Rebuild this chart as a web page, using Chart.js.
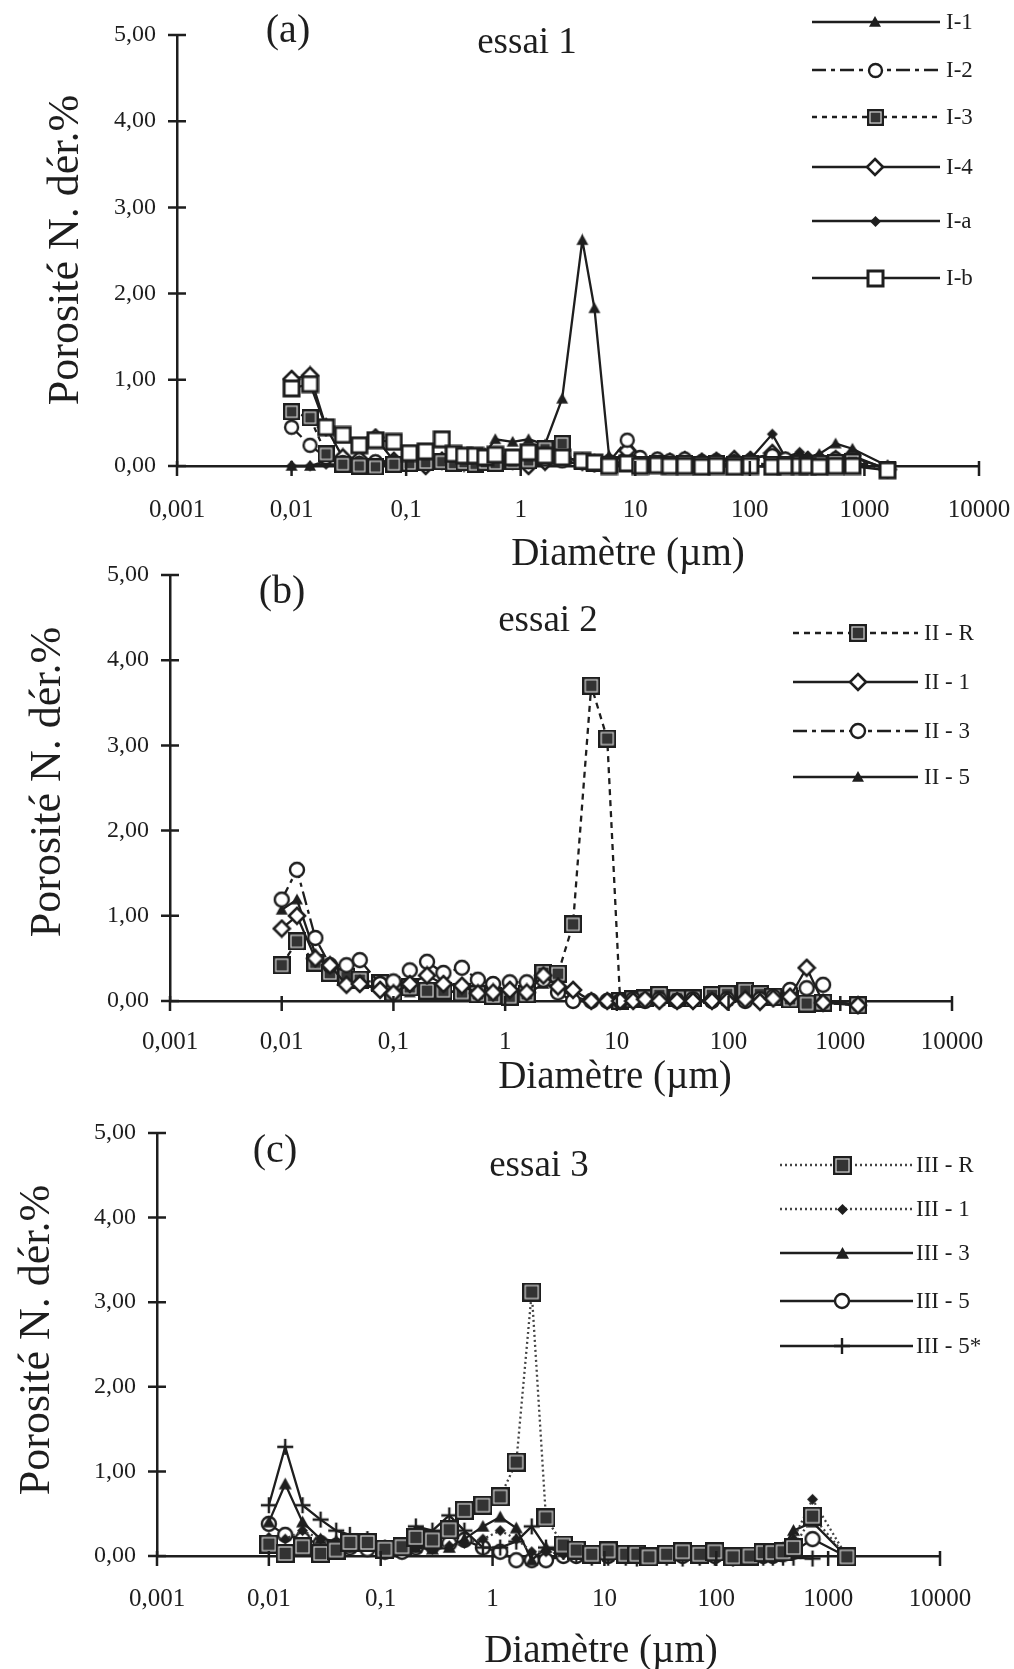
<!DOCTYPE html>
<html><head><meta charset="utf-8">
<script src="https://cdn.jsdelivr.net/npm/chart.js@4.4.1/dist/chart.umd.min.js"></script>
<style>
html,body{margin:0;padding:0;background:#fff;width:1014px;height:1669px;overflow:hidden;position:relative}
canvas{position:absolute;left:0}
</style></head><body>
<canvas id="ca" width="1014" height="590" style="top:0px"></canvas>
<canvas id="cb" width="1014" height="545" style="top:560px"></canvas>
<canvas id="cc" width="1014" height="574" style="top:1095px"></canvas>
<script>
// ---------- texts & ticks ----------
const xTickValues = [0.001, 0.01, 0.1, 1, 10, 100, 1000, 10000];
const xTickLabels = ['0,001', '0,01', '0,1', '1', '10', '100', '1000', '10000'];
const yTickLabels = ['0,00', '1,00', '2,00', '3,00', '4,00', '5,00'];
const axisTitleX = 'Diamètre (µm)';
const axisTitleY = 'Porosité N. dér.%';
const panelTags = ['(a)', '(b)', '(c)'];
const panelTitles = ['essai 1', 'essai 2', 'essai 3'];

// ---------- panel (a) : essai 1 ----------
const diamA = [0.01, 0.0145, 0.02, 0.028, 0.039, 0.054, 0.078, 0.107, 0.148, 0.205, 0.26, 0.32, 0.40, 0.49, 0.6, 0.85, 1.17, 1.63, 2.3, 3.45, 4.4, 5.9, 8.5, 11, 15.6, 20, 27, 38, 51, 73, 101, 157, 204, 272, 320, 404, 560, 786, 1590];
const labelsA = ['I-1', 'I-2', 'I-3', 'I-4', 'I-a', 'I-b'];
const I_1 = [0.0, 0.0, 0.06, 0.05, 0.06, 0.05, 0.06, 0.07, 0.08, 0.1, 0.12, 0.1, 0.12, 0.15, 0.31, 0.28, 0.31, 0.25, 0.78, 2.62, 1.83, 0.12, 0.06, 0.06, 0.05, 0.06, 0.06, 0.07, 0.08, 0.08, 0.1, 0.12, 0.1, 0.12, 0.1, 0.14, 0.26, 0.2, 0.0];
const I_2 = [0.45, 0.24, 0.1, 0.04, 0.03, 0.05, 0.04, 0.03, 0.05, 0.06, 0.05, 0.05, 0.04, 0.06, 0.05, 0.06, 0.05, 0.08, 0.06, 0.04, 0.03, 0.05, 0.3, 0.1, 0.08, 0.06, 0.08, 0.05, 0.06, 0.05, 0.06, 0.12, 0.08, 0.06, 0.05, 0.06, 0.08, 0.06, -0.03];
const I_3 = [0.63, 0.56, 0.14, 0.02, 0.0, -0.01, 0.02, 0.03, 0.04, 0.05, 0.03, 0.04, 0.02, 0.04, 0.03, 0.05, 0.06, 0.2, 0.26, 0.05, 0.03, 0.02, 0.03, 0.02, 0.03, 0.02, 0.03, 0.02, 0.03, 0.02, 0.03, 0.02, 0.02, 0.03, 0.02, 0.03, 0.04, 0.05, -0.04];
const I_4 = [1.01, 1.05, 0.45, 0.1, 0.08, 0.33, 0.06, 0.05, 0.0, 0.06, 0.05, 0.04, 0.03, 0.06, 0.05, 0.06, 0.0, 0.05, 0.1, 0.05, 0.03, 0.02, 0.18, 0.04, 0.06, 0.05, 0.07, 0.05, 0.06, 0.08, 0.07, 0.15, 0.06, 0.05, 0.07, 0.06, 0.08, 0.12, -0.04];
const I_a = [0.0, 0.0, 0.02, 0.02, 0.03, 0.02, 0.03, 0.02, 0.03, 0.04, 0.03, 0.02, 0.03, 0.02, 0.03, 0.04, 0.03, 0.02, 0.04, 0.03, 0.02, 0.03, 0.05, 0.03, 0.02, 0.03, 0.04, 0.03, 0.05, 0.06, 0.08, 0.37, 0.1, 0.16, 0.1, 0.12, 0.1, 0.1, -0.03];
const I_b = [0.9, 0.95, 0.45, 0.36, 0.24, 0.3, 0.28, 0.15, 0.17, 0.31, 0.14, 0.12, 0.12, 0.1, 0.13, 0.1, 0.16, 0.12, 0.1, 0.06, 0.04, 0.0, 0.03, 0.0, 0.01, 0.0, 0.0, -0.01, 0.0, -0.01, 0.0, -0.01, 0.0, 0.0, 0.0, -0.01, 0.0, 0.0, -0.05];

// ---------- panel (b) : essai 2 ----------
const diamB = [0.01, 0.0137, 0.02, 0.027, 0.038, 0.05, 0.076, 0.1, 0.14, 0.2, 0.28, 0.41, 0.57, 0.78, 1.1, 1.56, 2.2, 2.97, 4.05, 5.9, 8.2, 10.7, 14, 17.9, 24, 34.6, 48, 71, 97, 141, 191, 251, 355, 500, 702, 1440];
const labelsB = ['II - R', 'II - 1', 'II - 3', 'II - 5'];
const II_R = [0.42, 0.70, 0.45, 0.33, 0.28, 0.25, 0.21, 0.1, 0.16, 0.12, 0.12, 0.1, 0.08, 0.06, 0.05, 0.08, 0.33, 0.32, 0.9, 3.7, 3.08, 0.0, 0.02, 0.03, 0.07, 0.03, 0.03, 0.07, 0.08, 0.12, 0.08, 0.05, 0.02, -0.03, -0.02, -0.05];
const II_1 = [0.85, 1.0, 0.5, 0.42, 0.19, 0.2, 0.13, 0.09, 0.2, 0.3, 0.2, 0.18, 0.09, 0.1, 0.13, 0.1, 0.3, 0.17, 0.13, 0.0, 0.0, 0.0, 0.0, 0.02, 0.0, 0.0, 0.0, 0.0, 0.0, 0.02, -0.01, 0.03, 0.05, 0.39, -0.02, -0.05];
const II_3 = [1.19, 1.54, 0.74, 0.42, 0.42, 0.48, 0.2, 0.23, 0.36, 0.46, 0.33, 0.39, 0.25, 0.2, 0.22, 0.22, 0.25, 0.1, 0.0, 0.0, 0.0, 0.0, 0.02, 0.0, 0.02, 0.0, 0.02, 0.0, 0.02, 0.0, 0.02, 0.05, 0.13, 0.15, 0.19, null];
const II_5 = [1.07, 1.19, 0.55, 0.35, 0.25, 0.2, 0.15, 0.1, 0.1, 0.15, 0.12, 0.1, 0.08, 0.08, 0.08, 0.08, 0.2, 0.15, 0.05, 0.0, 0.0, 0.0, 0.0, 0.0, 0.0, 0.0, 0.0, 0.0, 0.0, 0.0, 0.0, 0.02, 0.02, 0.0, 0.0, -0.04];

// ---------- panel (c) : essai 3 ----------
const diamC = [0.01, 0.014, 0.02, 0.029, 0.04, 0.053, 0.076, 0.109, 0.155, 0.206, 0.29, 0.41, 0.56, 0.82, 1.17, 1.63, 2.24, 3.0, 4.3, 5.6, 7.7, 10.8, 15.5, 19.5, 25, 36, 50, 71, 97, 141, 200, 263, 320, 395, 490, 725, 1470];
const labelsC = ['III - R', 'III - 1', 'III - 3', 'III - 5', 'III - 5*'];
const III_R = [0.14, 0.03, 0.11, 0.03, 0.07, 0.16, 0.16, 0.08, 0.11, 0.22, 0.19, 0.31, 0.54, 0.6, 0.7, 1.11, 3.12, 0.45, 0.13, 0.07, 0.02, 0.06, 0.02, 0.02, -0.01, 0.02, 0.05, 0.02, 0.05, -0.01, 0.0, 0.04, 0.04, 0.05, 0.1, 0.47, -0.01];
const III_1 = [0.22, 0.2, 0.3, 0.2, 0.12, 0.1, 0.12, 0.08, 0.08, 0.1, 0.08, 0.12, 0.15, 0.2, 0.3, 0.2, 0.05, 0.05, 0.02, 0.02, 0.02, 0.02, 0.02, 0.02, 0.02, 0.02, 0.02, 0.02, 0.02, 0.02, 0.02, 0.02, 0.03, 0.05, 0.2, 0.67, -0.01];
const III_3 = [0.4, 0.85, 0.4, 0.2, 0.18, 0.1, 0.12, 0.05, 0.06, 0.1, 0.08, 0.1, 0.2, 0.35, 0.46, 0.33, -0.05, 0.1, 0.05, 0.02, 0.0, 0.0, 0.0, 0.0, 0.0, 0.0, 0.0, 0.0, 0.0, 0.0, 0.0, 0.0, 0.02, 0.1, 0.3, 0.4, -0.01];
const III_5 = [0.38, 0.25, 0.2, 0.15, 0.12, 0.1, 0.08, 0.05, 0.05, 0.1, 0.12, 0.15, 0.19, 0.1, 0.05, -0.05, -0.05, -0.05, 0.0, 0.0, 0.0, 0.0, 0.0, 0.0, 0.0, 0.0, 0.0, 0.0, 0.0, 0.0, 0.0, 0.0, 0.0, 0.02, 0.05, 0.2, -0.01];
const III_5s = [0.6, 1.29, 0.6, 0.43, 0.3, 0.25, 0.2, 0.1, 0.12, 0.35, 0.3, 0.48, 0.3, 0.1, 0.1, 0.17, 0.35, 0.1, 0.05, 0.0, -0.02, -0.02, -0.02, -0.03, -0.02, -0.02, -0.03, -0.02, -0.02, -0.03, -0.02, -0.02, -0.02, -0.02, -0.02, -0.03, null];

// ---------- styling ----------
const FONT = "'Liberation Serif','Times New Roman',serif";
const INK = '#1e1e1e';
Chart.defaults.font.family = FONT;
Chart.defaults.color = INK;

function mk(w, h, draw) {
  const c = document.createElement('canvas');
  c.width = w; c.height = h;
  const g = c.getContext('2d');
  draw(g, w / 2, h / 2);
  return c;
}
const Marker = {
  tri: s => mk(s + 2, s + 2, (g, cx, cy) => {
    g.fillStyle = INK; g.beginPath();
    g.moveTo(cx, cy - s / 2); g.lineTo(cx + s / 2, cy + s * 0.4); g.lineTo(cx - s / 2, cy + s * 0.4);
    g.closePath(); g.fill();
  }),
  circle: d => mk(d + 4, d + 4, (g, cx, cy) => {
    g.beginPath(); g.arc(cx, cy, d / 2, 0, Math.PI * 2);
    g.fillStyle = '#fff'; g.fill(); g.lineWidth = 2.4; g.strokeStyle = INK; g.stroke();
  }),
  boxed: s => mk(s, s, (g) => {
    g.fillStyle = INK; g.fillRect(0, 0, s, s);
    g.strokeStyle = '#cfcfcf'; g.lineWidth = 1.3; g.strokeRect(3, 3, s - 6, s - 6);
    g.fillStyle = '#333'; g.fillRect(4, 4, s - 8, s - 8);
  }),
  diamond: d => mk(d + 4, d + 4, (g, cx, cy) => {
    g.beginPath(); g.moveTo(cx, cy - d / 2); g.lineTo(cx + d / 2, cy); g.lineTo(cx, cy + d / 2); g.lineTo(cx - d / 2, cy); g.closePath();
    g.fillStyle = '#fff'; g.fill(); g.lineWidth = 2.6; g.strokeStyle = INK; g.stroke();
  }),
  diamondFilled: d => mk(d + 2, d + 2, (g, cx, cy) => {
    g.beginPath(); g.moveTo(cx, cy - d / 2); g.lineTo(cx + d / 2, cy); g.lineTo(cx, cy + d / 2); g.lineTo(cx - d / 2, cy); g.closePath();
    g.fillStyle = INK; g.fill();
  }),
  square: s => mk(s + 4, s + 4, (g, cx, cy) => {
    g.fillStyle = '#fff'; g.fillRect(cx - s / 2, cy - s / 2, s, s);
    g.lineWidth = 3; g.strokeStyle = INK; g.strokeRect(cx - s / 2, cy - s / 2, s, s);
  }),
  plus: s => mk(s + 2, s + 2, (g, cx, cy) => {
    g.strokeStyle = INK; g.lineWidth = 2.4; g.beginPath();
    g.moveTo(cx - s / 2, cy); g.lineTo(cx + s / 2, cy); g.moveTo(cx, cy - s / 2); g.lineTo(cx, cy + s / 2); g.stroke();
  })
};

const DASHDOT = [14, 5, 4, 5];

function text(ctx, str, x, y, size, align) {
  ctx.save();
  ctx.font = size + 'px ' + FONT;
  ctx.fillStyle = INK;
  ctx.textAlign = align || 'center';
  ctx.textBaseline = 'middle';
  ctx.fillText(str, x, y);
  ctx.restore();
}

function decorPlugin(P) {
  return {
    id: 'decor',
    afterDraw(chart) {
      const ctx = chart.ctx, a = chart.chartArea, xs = chart.scales.x, ys = chart.scales.y;
      ctx.save();
      ctx.strokeStyle = INK; ctx.lineWidth = 2.5; ctx.setLineDash([]);
      ctx.beginPath();
      yTickLabels.forEach((_, i) => { const py = ys.getPixelForValue(i); ctx.moveTo(a.left - 9, py); ctx.lineTo(a.left + 9, py); });
      xTickValues.forEach(v => { const px = xs.getPixelForValue(v); ctx.moveTo(px, a.bottom - 5); ctx.lineTo(px, a.bottom + 10); });
      ctx.stroke();
      ctx.restore();
      // panel texts
      text(ctx, P.tag, P.tagPos[0], P.tagPos[1], 40);
      text(ctx, P.title, P.titlePos[0], P.titlePos[1], 37);
      text(ctx, axisTitleX, P.xTitlePos[0], P.xTitlePos[1], 39);
      ctx.save();
      ctx.translate(P.yTitlePos[0], P.yTitlePos[1]);
      ctx.rotate(-Math.PI / 2);
      text(ctx, axisTitleY, 0, 0, 44);
      ctx.restore();
      // legend
      const L = P.legend;
      P.series.forEach((s, i) => {
        const y = L.rows[i];
        ctx.save();
        ctx.strokeStyle = s.color || INK; ctx.lineWidth = 2.5; ctx.setLineDash(s.dash || []);
        ctx.beginPath(); ctx.moveTo(L.x0, y); ctx.lineTo(L.x1, y); ctx.stroke();
        ctx.restore();
        const m = s.marker;
        ctx.drawImage(m, Math.round(L.mx - m.width / 2), Math.round(y - m.height / 2));
        text(ctx, s.label, L.lx, y + 1, 23, 'left');
      });
    }
  };
}

function panel(id, P) {
  const canvas = document.getElementById(id);
  const W = canvas.width, H = canvas.height;
  const datasets = P.series.map(s => ({
    label: s.label,
    data: P.x.map((x, j) => ({ x: x, y: s.y[j] })).filter(p => p.y !== null),
    showLine: true,
    borderColor: s.color || INK,
    borderWidth: s.lw || 2.3,
    borderDash: s.dash || [],
    pointStyle: s.marker,
    pointRadius: 6, pointHoverRadius: 6,
    clip: false, order: s.order, tension: 0, fill: false
  }));
  new Chart(canvas, {
    type: 'scatter',
    data: { datasets },
    options: {
      responsive: false, animation: false, events: [],
      layout: { padding: { top: P.area.top, right: W - P.area.right, left: 0, bottom: 0 } },
      plugins: { legend: { display: false }, tooltip: { enabled: false } },
      scales: {
        x: {
          type: 'logarithmic', min: 0.001, max: 10000, position: 'bottom',
          afterFit: s => { s.height = H - P.area.bottom; s.paddingLeft = 0; s.paddingRight = 0; },
          afterBuildTicks: s => { s.ticks = xTickValues.map(v => ({ value: v })); },
          ticks: { autoSkip: false, maxRotation: 0, padding: P.xPad, color: INK, font: { family: FONT, size: 25 }, callback: (v, i) => xTickLabels[i] },
          grid: { display: false }, border: { display: true, color: INK, width: 2.5 }
        },
        y: {
          type: 'linear', min: 0, max: 5, position: 'left',
          afterFit: s => { s.width = P.area.left; s.paddingTop = 0; s.paddingBottom = 0; },
          afterBuildTicks: s => { s.ticks = yTickLabels.map((_, i) => ({ value: i })); },
          ticks: { padding: 13, color: INK, font: { family: FONT, size: 24 }, callback: (v, i) => yTickLabels[i] },
          grid: { display: false }, border: { display: true, color: INK, width: 2.5 }
        }
      }
    },
    plugins: [decorPlugin(P)]
  });
}

panel('ca', {
  x: diamA,
  area: { left: 177, right: 979, top: 35, bottom: 466 },
  xPad: 21,
  tag: panelTags[0], tagPos: [288, 31], title: panelTitles[0], titlePos: [527, 43],
  xTitlePos: [628, 555], yTitlePos: [66, 250],
  legend: { rows: [22, 70, 117, 167, 221, 278], x0: 812, x1: 940, mx: 875, lx: 946 },
  series: [
    { label: labelsA[0], y: I_1, marker: Marker.tri(12), order: 3 },
    { label: labelsA[1], y: I_2, marker: Marker.circle(13), dash: DASHDOT, order: 2 },
    { label: labelsA[2], y: I_3, marker: Marker.boxed(17), dash: [5, 5], order: 1 },
    { label: labelsA[3], y: I_4, marker: Marker.diamond(16), order: 4 },
    { label: labelsA[4], y: I_a, marker: Marker.diamondFilled(11), order: 5 },
    { label: labelsA[5], y: I_b, marker: Marker.square(15), order: 0 }
  ]
});

panel('cb', {
  x: diamB,
  area: { left: 170, right: 952, top: 15, bottom: 441 },
  xPad: 18,
  tag: panelTags[1], tagPos: [282, 32], title: panelTitles[1], titlePos: [548, 61],
  xTitlePos: [615, 518], yTitlePos: [48, 222],
  legend: { rows: [73, 122, 171, 217], x0: 793, x1: 918, mx: 858, lx: 924 },
  series: [
    { label: labelsB[0], y: II_R, marker: Marker.boxed(18), dash: [6, 5], order: 2 },
    { label: labelsB[1], y: II_1, marker: Marker.diamond(16), order: 0 },
    { label: labelsB[2], y: II_3, marker: Marker.circle(14), dash: DASHDOT, order: 1 },
    { label: labelsB[3], y: II_5, marker: Marker.tri(12), order: 3 }
  ]
});

panel('cc', {
  x: diamC,
  area: { left: 157, right: 940, top: 38, bottom: 461 },
  xPad: 20,
  tag: panelTags[2], tagPos: [275, 56], title: panelTitles[2], titlePos: [539, 71],
  xTitlePos: [601, 557], yTitlePos: [37, 245],
  legend: { rows: [70, 114, 158, 206, 251], x0: 780, x1: 913, mx: 842, lx: 916 },
  series: [
    { label: labelsC[0], y: III_R, marker: Marker.boxed(19), dash: [2, 3], color: '#444', order: 0 },
    { label: labelsC[1], y: III_1, marker: Marker.diamondFilled(11), dash: [2, 3], color: '#444', order: 2 },
    { label: labelsC[2], y: III_3, marker: Marker.tri(13), order: 3 },
    { label: labelsC[3], y: III_5, marker: Marker.circle(14), order: 4 },
    { label: labelsC[4], y: III_5s, marker: Marker.plus(16), order: 1 }
  ]
});
</script>
</body></html>
